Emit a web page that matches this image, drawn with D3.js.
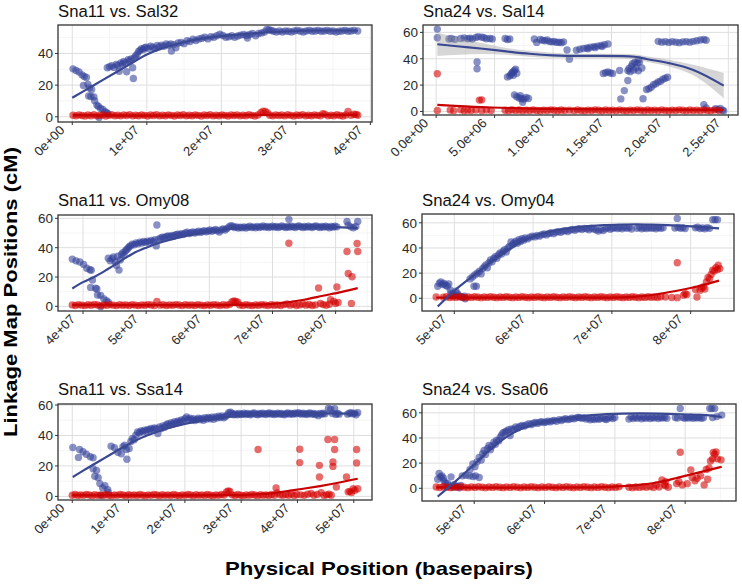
<!DOCTYPE html>
<html><head><meta charset="utf-8">
<script src="https://cdn.jsdelivr.net/npm/d3@7"></script>
<style>body{margin:0;background:#fff}svg{display:block}text{font-family:"Liberation Sans",Arial,Helvetica,sans-serif}</style>
</head><body><svg id="c" width="742" height="584"></svg>
<script>
// ---------- DATA (x in Mb, y in cM) ----------
const titles = ["Sna11 vs. Sal32","Sna24 vs. Sal14","Sna11 vs. Omy08","Sna24 vs. Omy04","Sna11 vs. Ssa14","Sna24 vs. Ssa06"];
const xTickVals = [[0,10,20,30,40],[0,5,10,15,20,25],[40,50,60,70,80],[50,60,70,80],[0,10,20,30,40,50],[50,60,70,80]];
const xTickLabels = [["0e+00","1e+07","2e+07","3e+07","4e+07"],["0.0e+00","5.0e+06","1.0e+07","1.5e+07","2.0e+07","2.5e+07"],["4e+07","5e+07","6e+07","7e+07","8e+07"],["5e+07","6e+07","7e+07","8e+07"],["0e+00","1e+07","2e+07","3e+07","4e+07","5e+07"],["5e+07","6e+07","7e+07","8e+07"]];
const yTickVals = [[0,20,40],[0,20,40,60],[0,20,40,60],[0,20,40,60],[0,20,40,60],[0,20,40,60]];

const p1Blue = [[0.1,30.3],[0.5,29.2],[0.9,28.3],[1.3,26.5],[1.6,25.5],[1.9,24.8],[1.5,19.8],[2.1,20.5],[2.3,18.2],[2.6,17.3],[2.2,13.2],[2.5,12.8],[2.9,12.6],[3.0,10.2],[3.3,7.4],[3.5,6.6],[3.8,5.2],[4.1,4.6],[4.4,3.2],[4.6,2.6],[3.6,-0.5],[4.8,2.0],
[4.7,31.0],[5.0,31.6],[5.3,32.2],[5.6,31.2],[5.9,33.0],[6.1,32.5],[6.3,28.8],[6.5,34.0],[6.7,33.2],[6.9,35.0],[7.1,34.2],[7.3,28.5],[7.5,36.0],[7.7,35.2],[7.9,36.6],[8.1,31.0],[8.2,24.2],[8.3,37.2],[8.5,38.4],[8.7,39.6],[8.9,41.2],[9.1,42.0],[9.3,43.0],[9.5,42.4],[9.7,43.6],[9.9,44.0],[10.2,43.2],[10.5,44.6],[10.8,44.0],[11.1,43.2],[11.4,45.0],[11.7,44.2],[12.0,45.2],[12.3,44.6],[12.6,46.0],[12.9,45.2],[13.2,46.0],[13.3,41.5],[13.6,45.6],[13.9,43.6],[14.2,46.6],[14.6,47.0],[15.0,46.2],[15.4,48.0],[15.8,47.6],[16.2,49.0],[16.6,48.2],[17.0,49.2],[17.4,49.6],[17.8,50.2],[18.2,49.2],[18.6,50.6],[19.0,50.2],[19.4,51.2],[19.8,52.2],[20.2,51.4],[20.6,50.2],[21.0,50.6],[21.4,51.2],[21.8,50.2],[22.2,51.0],[22.6,51.6],[23.0,52.0],[23.4,51.4],[23.5,49.8],[23.8,52.0],[24.2,52.6],[24.6,51.2],[25.0,52.6],[25.4,53.0],[25.8,53.6],[26.1,55.2],[26.4,55.0],[26.7,54.6],[27.0,54.0],[27.4,53.6],[27.8,54.2],[28.2,53.6],[28.6,54.2],[29.0,54.0],[29.4,53.6],[29.8,54.2],[30.2,54.6],[30.6,54.0],[31.0,53.6],[31.4,54.2],[31.8,54.6],[32.2,54.0],[32.6,54.2],[33.0,54.6],[33.4,54.0],[33.8,54.2],[34.2,54.6],[34.6,54.0],[35.0,54.2],[35.4,53.6],[35.8,54.0],[36.2,54.2],[36.6,54.6],[37.0,54.0],[37.4,54.2],[37.8,54.6],[38.3,54.2]];
const p1Red = [[0.1,1.0],[0.5,0.6],[0.9,1.2],[1.3,0.8],[1.7,0.5],[2.1,1.1],[2.5,0.7],[2.9,1.3],[3.3,0.6],[3.7,0.9],[4.1,1.2],[4.5,0.5],[4.9,0.9],[5.3,1.3],[5.7,0.7],[6.1,1.0],[6.5,0.6],[6.9,1.2],[7.3,0.8],[7.7,1.4],[8.1,0.6],[8.5,1.0],[8.9,0.7],[9.3,1.2],[9.7,0.9],[10.1,0.5],[10.5,1.1],[10.9,0.8],[11.3,1.3],[11.7,0.6],[12.1,1.0],[12.5,0.7],[12.9,1.2],[13.3,0.9],[13.7,0.5],[14.1,1.1],[14.5,0.8],[14.9,1.3],[15.3,0.6],[15.7,1.0],[16.1,0.7],[16.5,1.2],[16.9,0.9],[17.3,0.5],[17.7,1.1],[18.1,0.8],[18.5,1.3],[18.9,0.6],[19.3,1.0],[19.7,0.7],[20.1,1.2],[20.5,0.9],[20.9,0.5],[21.3,1.1],[21.7,0.8],[22.1,1.2],[22.5,0.6],[22.9,1.0],[23.3,0.7],[23.7,1.3],[24.1,0.9],[24.5,0.5],[24.9,1.1],[25.3,2.6],[25.6,3.5],[25.9,3.4],[26.2,2.5],[26.5,1.0],[26.9,0.6],[27.3,1.2],[27.7,0.8],[28.1,1.1],[28.5,0.6],[28.9,1.3],[29.3,0.9],[29.7,0.5],[30.1,1.1],[30.5,0.8],[30.9,1.4],[31.3,0.6],[31.7,1.0],[32.1,0.7],[32.5,1.2],[32.9,0.9],[33.3,0.6],[33.6,2.0],[33.9,1.6],[34.3,0.6],[34.7,1.0],[35.1,0.7],[35.5,1.3],[35.9,0.8],[36.3,0.5],[36.7,1.1],[37.0,3.4],[37.4,1.0],[37.8,1.6],[38.1,1.5],[38.3,1.0]];
const p1BlueFit = [[0,12],[2,17.5],[4,23],[6,28.5],[8,34],[10,39.3],[12,43.2],[14,46],[16,48.2],[18,49.8],[21,51.4],[24,52.6],[27,53.6],[30,54.2],[33,54.5],[36,54.5],[38.3,54.4]];
const p1RedFit = [[0.1,1.0],[10,0.8],[20,0.9],[26,1.2],[30,1.1],[38.3,1.2]];

const p2Blue = [[0.1,62.5],[0.1,55.9],[1.1,55.0],[1.3,55.4],[1.6,54.6],[2.1,55.4],[2.4,55.8],[2.7,55.2],[2.9,55.6],[3.1,55.0],[3.4,56.2],[3.6,56.8],[3.9,56.4],[4.1,56.0],[4.3,55.2],[4.6,55.4],[4.8,55.0],[3.5,37.5],[3.5,32.4],
[5.9,55.4],[6.1,54.6],[6.3,55.0],[6.1,26.2],[6.3,27.0],[6.4,28.2],[6.5,29.5],[6.6,30.0],[6.7,31.2],[6.8,32.0],[6.9,29.0],[6.6,27.5],
[6.7,12.6],[6.9,11.2],[7.1,10.2],[7.3,9.6],[7.5,9.4],[7.7,10.6],[7.9,9.8],[7.4,7.0],[7.2,12.0],
[8.4,55.0],[8.6,52.4],[8.9,54.6],[9.1,54.0],[9.3,53.6],[9.5,54.2],[9.7,53.0],[9.9,52.8],[10.1,53.2],[10.3,52.4],[10.5,52.6],[10.7,52.2],[10.9,52.8],
[11.2,46.6],[11.4,39.6],[12.0,46.4],[12.3,47.2],[12.6,47.8],[12.9,48.2],[13.0,47.6],[13.2,48.8],[13.5,49.2],[13.6,48.4],[13.8,49.6],[14.1,50.0],[14.2,49.2],[14.4,50.6],[14.7,51.2],
[14.3,28.8],[14.5,29.4],[14.7,30.0],[14.9,29.2],[15.1,28.8],[15.7,31.1],[15.8,9.5],[16.1,15.8],[16.4,23.5],
[16.4,31.0],[16.5,32.6],[16.6,30.2],[16.7,34.4],[16.8,36.2],[16.9,31.4],[17.0,37.4],[17.1,33.2],[17.2,36.8],[17.3,30.8],[17.4,37.6],[17.6,33.0],[17.3,39.5],[17.7,9.6],
[18.0,16.6],[18.2,17.2],[18.4,18.4],[18.6,20.2],[18.8,21.0],[19.0,22.4],[19.2,23.0],[19.4,24.4],[19.6,25.2],[19.8,26.0],
[19.0,53.2],[19.3,52.6],[19.6,53.0],[19.9,52.4],[20.2,53.0],[20.5,52.6],[20.8,52.2],[21.1,52.8],[21.4,53.0],[21.7,52.6],[22.0,53.2],[22.3,53.6],[22.6,54.2],[22.9,54.6],[23.1,54.0],
[22.9,5.2],[23.1,2.6],[23.9,2.0],[24.1,1.4],[24.3,2.2],[24.5,1.0],[24.6,0.4]];
const p2Red = [[0.1,28.6],[0.1,0.8],[1.2,1.0],[1.5,0.6],[2.1,1.2],[2.4,0.5],[2.7,1.0],[3.0,0.7],[3.4,1.1],[3.7,8.6],[3.9,8.8],[3.9,0.6],[4.3,1.0],[4.7,0.7],[5.9,0.9],[6.2,0.6],[6.5,1.2],[6.8,0.8],[7.1,1.1],[7.4,0.5],[7.7,1.0],[8.0,0.7],[8.3,1.2],[8.6,0.8],[8.9,0.5],[9.2,1.0],[9.5,0.7],[9.8,1.2],[10.1,0.9],[10.4,0.5],[10.7,1.1],[11.0,0.7],[11.4,1.0],[11.8,0.6],[12.1,1.2],[12.4,0.8],[12.7,0.5],[13.0,1.0],[13.3,0.7],[13.6,1.2],[13.9,0.9],[14.2,0.5],[14.5,1.1],[14.8,0.7],[15.1,1.0],[15.4,0.6],[15.7,1.2],[16.0,0.8],[16.3,0.5],[16.6,1.0],[16.9,0.7],[17.2,1.2],[17.5,0.9],[17.8,0.5],[18.1,1.1],[18.4,0.7],[18.7,1.0],[19.0,0.6],[19.3,1.2],[19.6,0.8],[19.9,0.5],[20.2,1.0],[20.5,0.7],[20.8,1.2],[21.1,0.9],[21.4,0.5],[21.7,1.1],[22.0,0.7],[22.3,1.0],[22.6,0.6],[22.9,1.2],[23.2,0.8],[23.5,0.5],[23.8,1.0],[24.2,0.7]];
const p2BlueFit = [[0.1,51],[2,49.3],[4,47.6],[6,45.6],[8,43.8],[10,42.6],[12,42.1],[14,42.1],[16,42.0],[17,41.5],[18,39.8],[20,36.5],[22,31.5],[24.6,19.6]];
const p2RedFit = [[0.1,5.0],[2,4.0],[4.7,3.0],[8,2.2],[12,1.7],[16,1.5],[20,1.4],[24.6,1.2]];
const p2Band = [[0.1,42,60],[2,43,55.6],[4,43.5,51.7],[6,43,48.2],[8,41.6,46],[10,40.7,44.5],[12,40.4,43.8],[14,40.4,43.8],[16,40.2,43.8],[17,39.6,43.4],[18,37.7,41.9],[20,34,39],[22,27.5,35.5],[24.6,10,29.2]];

const p3Blue = [[38.3,32.2],[38.9,31.0],[39.5,30.2],[40.1,28.6],[40.6,26.0],[41.1,25.0],[41.3,24.6],[41.5,17.9],[41.2,12.9],[42.0,12.4],[42.2,11.8],[42.3,7.7],[42.8,7.5],[43.3,5.0],[43.7,3.9],[42.8,-0.2],[44.0,2.8],
[44.0,32.8],[44.3,31.0],[44.6,32.4],[44.8,33.6],[45.1,30.2],[45.3,28.0],[45.5,34.2],[45.7,24.7],[45.9,31.6],[46.1,35.4],[46.3,36.6],[46.5,34.8],[46.7,37.8],[46.9,38.6],[47.1,39.4],[47.3,40.6],[47.5,41.2],[47.8,42.4],[48.1,42.0],[48.4,43.2],[48.7,42.6],[49.0,43.8],[49.3,43.2],[49.6,44.2],[49.9,43.6],[50.2,44.4],[50.5,43.8],[50.8,45.0],[51.1,44.2],[51.4,45.4],[51.6,41.2],[51.7,55.5],[52.0,45.8],[52.3,46.6],[52.6,47.2],[52.9,46.8],[53.2,47.6],[53.5,48.0],[53.8,47.4],[54.1,48.4],[54.4,48.0],[54.7,48.8],[55.0,49.2],[55.3,48.6],[55.6,49.6],[55.9,49.0],[56.2,50.0],[56.5,50.6],[56.8,49.6],[57.1,50.2],[57.4,50.8],[57.7,50.0],[58.0,50.6],[58.3,51.2],[58.6,50.4],[58.9,51.0],[59.2,51.6],[59.5,50.8],[59.8,51.4],[60.1,52.0],[60.4,51.2],[60.7,51.8],[61.0,52.4],[61.3,51.6],[61.6,50.6],[61.9,52.2],[62.2,52.8],[62.5,52.0],[62.8,53.0],[63.1,54.2],[63.4,55.0],[63.7,54.6],[64.0,53.8],[64.3,54.2],[64.6,53.4],[64.9,54.0],[65.2,53.6],[65.5,54.2],[65.8,53.4],[66.1,54.0],[66.4,54.6],[66.7,53.8],[67.0,54.2],[67.3,53.6],[67.6,54.4],[67.9,53.8],[68.2,54.2],[68.5,54.8],[68.8,54.0],[69.1,54.4],[69.4,53.8],[69.7,54.2],[70.0,54.6],[70.3,54.0],[70.6,54.4],[70.9,53.8],[71.2,54.2],[71.5,54.8],[71.8,54.2],[72.1,53.8],[72.6,59.3],[72.4,54.4],[72.7,54.0],[73.0,54.6],[73.3,54.2],[73.6,53.8],[73.9,54.4],[74.2,54.8],[74.5,54.2],[74.8,53.8],[75.1,54.4],[75.4,54.0],[75.7,54.6],[76.0,54.2],[76.3,53.8],[76.6,54.4],[76.9,54.8],[77.2,54.2],[77.5,53.8],[77.8,54.4],[78.1,54.0],[78.4,54.6],[78.7,54.2],[79.0,53.6],[79.3,54.4],[79.6,54.0],[79.9,54.6],[80.2,54.2],[81.8,57.8],[82.0,55.4],[82.4,54.2],[82.8,53.6],[83.2,54.4],[83.5,57.8]];
const p3Red = [[38.3,1.0],[38.8,0.6],[39.3,1.2],[39.8,0.8],[40.3,0.5],[40.8,1.1],[41.3,0.7],[41.8,1.3],[42.3,0.9],[42.8,0.5],[43.3,1.0],[43.8,0.7],[44.3,1.2],[44.8,0.8],[45.3,0.5],[45.8,1.1],[46.3,0.7],[46.8,1.0],[47.3,0.6],[47.8,1.2],[48.3,0.8],[48.8,0.5],[49.3,1.0],[49.8,0.7],[50.3,1.2],[50.8,0.9],[51.3,0.5],[51.7,3.4],[52.2,0.8],[52.7,1.1],[53.2,0.6],[53.7,1.0],[54.2,0.7],[54.7,1.2],[55.2,0.9],[55.7,0.5],[56.2,1.1],[56.7,0.7],[57.2,1.0],[57.7,0.6],[58.2,1.2],[58.7,0.8],[59.2,0.5],[59.7,1.0],[60.2,0.7],[60.7,1.2],[61.2,0.9],[61.7,0.5],[62.2,1.1],[62.7,0.7],[63.2,1.3],[63.6,3.2],[63.9,3.6],[64.2,3.4],[64.5,2.8],[64.8,1.0],[65.3,0.6],[65.8,1.2],[66.3,0.8],[66.8,0.5],[67.3,1.0],[67.8,0.7],[68.3,1.2],[68.8,0.9],[69.3,0.5],[69.8,1.1],[70.3,0.7],[70.8,1.0],[71.3,0.6],[71.8,1.2],[72.3,1.6],[72.6,43.0],[72.8,0.8],[73.3,1.4],[73.8,0.6],[74.3,1.0],[74.8,1.6],[75.3,0.8],[75.8,1.3],[76.3,0.6],[76.8,1.0],[77.3,12.5],[77.6,2.0],[78.0,1.2],[78.5,0.7],[79.0,1.4],[79.2,4.5],[79.7,3.4],[80.0,2.0],[80.2,13.2],[80.4,2.7],[81.8,37.4],[82.0,22.4],[82.5,2.0],[82.6,20.2],[83.4,42.8],[83.5,37.4]];
const p3BlueFit = [[38.3,12.2],[40,16.5],[42,20.5],[44,25.6],[46,31.0],[48,36.2],[50,40.0],[52,43.2],[54,45.6],[56,47.8],[58,49.6],[60,51.0],[62,52.2],[64,53.0],[66,53.6],[68,54.0],[70,54.3],[72,54.4],[74,54.5],[76,54.4],[78,54.3],[80,54.0],[82,53.6],[83.5,53.3]];
const p3RedFit = [[38.3,1.0],[50,0.8],[60,0.8],[66,1.0],[69,1.4],[72.2,2.6],[75,4.5],[78,7.2],[81,9.9],[83.5,12.4]];

const p4Blue = [[47.9,9.6],[48.1,12.0],[48.3,13.0],[48.5,11.0],[48.7,11.7],[48.9,10.4],[49.1,9.6],[49.3,11.4],[49.5,6.4],[49.6,4.0],[49.8,3.2],[50.0,2.4],[50.2,5.6],[50.4,3.6],[50.6,2.0],[50.9,1.2],[51.1,0.6],[51.3,1.6],[51.4,-0.4],
[52.0,15.4],[52.3,17.0],[52.5,9.6],[52.8,9.6],[52.6,18.6],[52.9,20.0],[53.2,21.6],[53.4,19.4],[53.6,23.6],[53.8,25.0],[54.0,26.6],[54.2,24.2],[54.4,28.2],[54.6,30.4],[54.8,29.0],[55.0,31.6],[55.2,33.0],[55.4,31.8],[55.6,34.4],[55.8,36.0],[56.0,35.2],[56.2,37.4],[56.4,38.6],[56.6,36.8],[56.8,40.0],[57.0,41.2],[57.2,44.8],[57.4,42.6],[57.6,44.0],[57.8,45.4],[58.0,43.8],[58.2,46.6],[58.4,45.2],[58.6,47.4],[58.8,46.2],[59.0,48.0],[59.3,47.2],[59.6,48.6],[59.9,49.4],[60.2,48.8],[60.5,50.0],[60.8,49.4],[61.1,50.6],[61.4,51.2],[61.7,50.4],[62.0,51.6],[62.3,52.2],[62.6,51.4],[62.9,52.6],[63.2,53.0],[63.5,52.4],[63.8,53.4],[64.1,53.8],[64.4,53.0],[64.7,54.2],[65.0,54.8],[65.3,54.0],[65.6,55.0],[65.9,55.4],[66.2,54.6],[66.5,55.6],[66.8,55.2],[67.1,54.4],[67.4,55.8],[67.7,55.0],[68.0,54.2],[68.3,53.4],[68.6,54.6],[68.9,53.8],[69.2,55.2],[69.5,56.0],[69.8,54.8],[70.1,55.6],[70.4,56.2],[70.7,55.4],[71.0,56.0],[71.3,55.2],[71.6,56.4],[71.9,55.6],[72.2,56.2],[72.5,55.0],[73.2,55.6],[73.5,56.4],[73.8,55.2],[74.1,56.0],[74.4,55.4],[74.7,56.2],[75.0,55.6],[75.3,56.0],[75.6,55.2],[75.9,56.2],[76.2,55.6],[76.5,56.0],[78.3,63.5],[78.0,55.8],[78.4,56.4],[78.7,55.6],[79.0,56.2],[79.3,55.4],[80.6,56.0],[80.9,56.6],[81.2,55.4],[81.5,56.0],[81.8,55.2],[82.1,56.2],[82.4,55.6],[82.8,62.5],[83.1,62.5],[83.4,62.5]];
const p4Red = [[47.7,1.0],[48.6,0.8],[49.0,1.2],[49.4,0.6],[49.8,1.0],[50.2,0.7],[50.6,1.2],[51.0,0.8],[51.4,0.5],[51.8,1.0],[52.2,0.7],[52.6,1.2],[53.0,0.8],[53.4,0.5],[53.8,1.0],[54.2,0.7],[54.6,1.2],[55.0,0.8],[55.4,0.5],[55.8,1.0],[56.2,0.7],[56.6,1.2],[57.0,0.8],[57.4,0.5],[57.8,1.0],[58.2,0.7],[58.6,1.2],[59.0,0.8],[59.4,0.5],[59.8,1.0],[60.2,0.7],[60.6,1.2],[61.0,0.8],[61.4,0.5],[61.8,1.0],[62.2,0.7],[62.6,1.2],[63.0,0.8],[63.4,0.5],[63.8,1.0],[64.2,0.7],[64.6,1.2],[65.0,0.8],[65.4,0.5],[65.8,1.0],[66.2,0.7],[66.6,1.2],[67.0,0.8],[67.4,0.5],[67.8,1.0],[68.2,0.7],[68.6,1.2],[69.0,0.8],[69.4,0.5],[69.8,1.0],[70.2,0.7],[70.6,1.2],[71.0,0.8],[71.4,0.5],[71.8,1.0],[72.2,0.7],[72.6,1.2],[73.0,0.8],[73.4,0.5],[73.8,1.0],[74.2,0.7],[74.6,1.2],[75.0,0.8],[75.4,1.0],[75.8,0.6],[76.2,1.2],[76.8,1.0],[77.6,0.6],[78.3,28.2],[78.3,0.5],[79.1,2.5],[79.3,3.6],[79.5,3.0],[80.6,7.0],[80.8,1.0],[81.2,6.4],[81.4,8.0],[81.6,9.0],[81.8,7.4],[82.0,13.0],[82.2,16.6],[82.4,15.6],[82.6,19.0],[82.8,22.3],[83.0,21.6],[83.2,24.4],[83.4,22.8],[83.5,26.3],[83.7,23.6]];
const p4BlueFit = [[47.9,-6.6],[50,6.0],[52,16.0],[53.5,23.4],[55,30.5],[56.5,37.2],[58,43.0],[59.5,47.8],[61,51.2],[63,54.2],[65,56.2],[67,57.4],[69,58.2],[71,58.6],[73,58.8],[75,58.6],[77,58.2],[79,57.6],[81,56.8],[83.6,55.6]];
const p4RedFit = [[47.7,0.6],[56,0.5],[64,0.5],[70,0.6],[72.8,1.1],[75.5,3.0],[78.1,5.8],[80.7,9.2],[83.6,14.0]];

const p5Blue = [[0.1,32.1],[1.1,25.6],[1.3,30.8],[1.9,29.3],[2.5,27.7],[3.2,26.0],[3.7,25.4],[3.7,18.2],[4.0,13.2],[4.6,12.3],[4.9,8.4],[5.4,5.5],[6.3,4.4],[5.1,0.7],[6.4,2.6],[5.8,7.0],[4.3,17.0],
[6.9,33.0],[7.5,32.0],[8.1,29.0],[8.7,28.0],[9.0,32.6],[9.3,33.6],[9.6,30.8],[9.7,24.4],[10.1,31.4],[10.4,36.0],[10.7,38.0],[11.0,37.2],[11.3,40.2],[11.6,42.3],[11.9,41.6],[12.2,43.0],[12.5,42.4],[12.8,43.5],[13.1,42.8],[13.4,44.0],[13.7,43.4],[14.0,44.6],[14.3,44.0],[14.6,45.0],[14.9,44.4],[15.2,41.3],[15.5,45.6],[15.8,44.5],[16.1,46.2],[16.4,45.4],[16.7,47.0],[17.0,47.8],[17.3,46.8],[17.6,48.4],[17.9,47.6],[18.2,49.0],[18.5,48.2],[18.8,49.6],[19.1,48.8],[19.4,50.2],[19.7,49.4],[20.0,51.0],[20.3,52.2],[20.6,50.6],[20.9,51.4],[21.2,50.2],[21.5,51.0],[21.8,49.8],[22.1,50.6],[22.4,51.4],[22.7,50.4],[23.0,51.2],[23.3,50.0],[23.6,51.6],[23.9,50.8],[24.2,51.8],[24.5,51.0],[24.8,52.0],[25.1,50.6],[25.4,52.2],[25.7,51.4],[26.0,52.6],[26.3,51.8],[26.6,52.8],[26.9,51.6],[27.2,52.4],[27.5,53.4],[27.8,54.9],[28.1,55.2],[28.4,54.4],[28.7,53.6],[29.0,54.2],[29.3,53.6],[29.6,54.4],[29.9,53.8],[30.2,54.0],[30.5,54.6],[30.8,53.8],[31.1,54.4],[31.4,54.0],[31.7,53.6],[32.0,54.4],[32.3,54.8],[32.6,54.0],[32.9,53.6],[33.2,54.4],[33.5,54.0],[33.8,54.6],[34.1,54.2],[34.4,53.8],[34.7,54.4],[35.0,54.8],[35.3,54.0],[35.6,54.4],[35.9,53.8],[36.2,54.2],[36.5,54.6],[36.8,54.0],[37.1,54.4],[37.4,54.0],[37.7,53.6],[38.0,54.4],[38.3,54.8],[38.6,54.0],[38.9,54.4],[39.2,54.0],[39.5,54.6],[39.8,54.2],[40.1,55.0],[40.4,54.4],[40.7,54.0],[41.0,54.6],[41.3,54.2],[41.6,53.8],[41.9,54.4],[42.2,54.8],[42.5,54.0],[42.8,54.4],[43.1,53.8],[43.4,54.2],[43.7,53.0],[44.0,54.4],[44.3,54.0],[44.6,54.6],[44.9,54.2],[45.5,57.8],[45.9,57.2],[46.6,57.6],[46.2,54.4],[46.8,53.8],[47.1,54.4],[47.4,54.0],[48.9,54.0],[49.2,54.6],[49.5,54.9],[49.8,54.2],[50.1,54.6],[50.4,53.6],[50.7,55.0]];
const p5Red = [[0.0,0.8],[0.5,1.2],[1.0,0.6],[1.5,1.0],[2.0,0.7],[2.5,1.3],[3.0,0.9],[3.5,0.5],[4.0,1.1],[4.5,0.7],[5.0,1.0],[5.5,0.6],[6.0,1.2],[6.5,0.8],[7.0,0.5],[7.5,1.0],[8.0,0.7],[8.5,1.2],[9.0,0.9],[9.5,0.5],[10.0,1.1],[10.5,0.7],[11.0,1.0],[11.5,0.6],[12.0,1.2],[12.5,0.8],[13.0,0.5],[13.5,1.0],[14.0,0.7],[14.5,1.2],[15.0,0.9],[15.5,0.5],[16.0,1.1],[16.5,0.7],[17.0,1.0],[17.5,0.6],[18.0,1.2],[18.5,0.8],[19.0,0.5],[19.5,1.0],[20.0,0.7],[20.5,1.2],[21.0,0.9],[21.5,0.5],[22.0,1.1],[22.5,0.7],[23.0,1.0],[23.5,0.6],[24.0,1.2],[24.5,0.8],[25.0,0.5],[25.5,1.0],[26.0,0.7],[26.5,1.2],[27.0,0.9],[27.4,3.0],[27.7,3.6],[28.0,3.2],[28.4,1.0],[28.9,0.6],[29.4,1.2],[29.9,0.8],[30.4,0.5],[30.9,1.0],[31.4,0.7],[31.9,1.2],[32.4,0.9],[32.9,0.5],[33.0,30.8],[33.4,1.1],[33.9,0.7],[34.4,1.0],[34.9,0.6],[35.4,1.2],[35.9,0.8],[36.2,5.5],[36.4,2.2],[36.9,1.0],[37.4,0.7],[37.9,1.3],[38.4,0.8],[38.9,1.6],[39.4,0.6],[39.9,1.2],[40.4,31.0],[40.4,22.2],[40.6,1.0],[41.2,0.7],[41.8,1.4],[42.4,2.0],[42.9,0.8],[43.5,1.2],[43.9,20.4],[43.9,12.7],[44.2,2.4],[44.7,0.6],[45.2,1.0],[45.4,37.4],[45.6,1.4],[46.0,0.8],[46.3,22.6],[46.3,19.7],[46.6,37.4],[46.6,30.8],[46.9,6.1],[48.7,12.7],[49.0,3.0],[49.3,3.3],[49.6,2.6],[49.9,5.0],[50.2,4.0],[50.5,30.8],[50.5,22.0],[50.7,5.0]];
const p5BlueFit = [[0.1,12.7],[2,17.1],[4,21.4],[6,25.8],[8,30.1],[10,34.2],[12,38.0],[14,41.0],[16,43.6],[18,45.8],[20,47.6],[23,49.8],[26,51.4],[30,52.8],[34,53.7],[38,54.2],[42,54.5],[46,54.5],[50.7,54.3]];
const p5RedFit = [[0,0.8],[10,0.7],[20,0.7],[28,0.8],[32,1.2],[35.7,2.2],[38,3.4],[41,5.0],[44,6.8],[47,8.8],[50.7,11.6]];

const p6Blue = [[44.8,7.2],[45.0,11.8],[45.2,9.0],[45.4,9.9],[45.6,8.0],[45.7,5.9],[45.9,4.2],[46.2,3.8],[46.4,2.0],[46.7,9.1],[46.9,0.8],[47.1,2.9],[47.4,1.4],[47.6,1.6],[47.9,0.4],[48.1,2.2],
[48.3,9.9],[48.8,10.4],[49.3,9.9],[49.8,9.4],[50.2,9.9],[50.7,8.6],
[49.4,15.0],[49.8,19.3],[50.1,17.2],[50.4,21.0],[50.7,24.6],[51.0,22.4],[51.2,27.4],[51.4,30.0],[51.6,26.8],[51.9,31.6],[52.1,34.0],[52.3,30.6],[52.5,33.4],[52.8,36.7],[53.0,35.0],[53.2,38.2],[53.5,37.8],[53.7,40.6],[53.9,42.4],[54.1,44.2],[54.4,44.7],[54.6,45.5],[54.9,46.6],[55.1,42.0],[55.3,47.2],[55.6,46.8],[55.9,48.7],[56.2,48.0],[56.5,49.2],[56.8,50.0],[57.1,49.4],[57.4,50.4],[57.8,51.4],[58.1,50.6],[58.4,51.8],[58.7,52.4],[59.0,51.6],[59.3,52.6],[59.6,53.0],[59.9,52.2],[60.2,52.7],[60.5,53.4],[60.8,52.8],[61.1,53.6],[61.4,54.0],[61.7,53.2],[62.1,54.6],[62.4,53.8],[62.7,54.8],[63.0,55.4],[63.3,54.6],[63.6,55.0],[63.9,55.8],[64.2,55.2],[64.5,56.0],[64.8,56.4],[65.0,56.2],[65.3,55.6],[65.6,56.2],[65.9,55.0],[66.2,55.8],[66.5,54.4],[66.8,55.2],[67.1,54.6],[67.4,55.6],[67.7,54.8],[68.0,55.4],[68.3,56.2],[68.6,55.0],[68.8,54.6],[69.1,55.8],[69.4,56.6],[69.7,55.4],[70.0,56.2],[72.0,55.0],[72.3,56.6],[72.6,55.4],[72.9,56.4],[73.2,55.6],[73.5,56.8],[73.8,55.2],[74.1,56.2],[74.4,55.6],[74.7,56.6],[75.0,55.4],[75.3,56.2],[75.6,55.8],[75.9,56.6],[76.2,55.4],[76.5,56.2],[76.8,55.8],[77.1,56.4],[77.4,55.6],[78.6,56.2],[78.9,55.8],[79.3,63.5],[79.6,56.4],[79.9,55.6],[80.2,56.2],[80.5,55.8],[80.8,56.6],[81.1,55.6],[81.4,56.2],[81.7,55.8],[82.0,56.4],[82.3,55.6],[82.6,56.0],[83.5,63.5],[83.8,63.5],[84.2,63.5],[83.9,56.2],[84.5,57.0],[85.2,58.2]];
const p6Red = [[44.6,1.0],[45.1,0.6],[45.6,1.2],[46.1,0.8],[46.6,0.5],[47.1,1.0],[47.6,0.7],[48.1,1.2],[48.6,0.8],[49.1,0.5],[49.6,1.0],[50.1,0.7],[50.6,1.2],[51.1,0.8],[51.6,0.5],[52.1,1.0],[52.6,0.7],[53.1,1.2],[53.6,0.8],[54.1,0.5],[54.6,1.0],[55.1,0.7],[55.6,1.2],[56.1,0.8],[56.6,0.5],[57.1,1.0],[57.6,0.7],[58.1,1.2],[58.6,0.8],[59.1,0.5],[59.6,1.0],[60.1,0.7],[60.6,1.2],[61.1,0.8],[61.6,0.5],[62.1,1.0],[62.6,0.7],[63.1,1.2],[63.6,0.8],[64.1,0.5],[64.6,1.0],[65.1,0.7],[65.6,1.2],[66.1,0.8],[66.6,0.5],[67.1,1.0],[67.6,0.7],[68.1,1.2],[68.6,0.8],[69.1,0.5],[69.6,1.0],[70.1,0.7],[70.6,1.2],[72.0,0.8],[72.5,0.5],[73.0,1.0],[73.5,0.7],[74.0,1.2],[74.5,0.8],[75.0,1.4],[75.5,0.6],[75.9,2.6],[76.3,1.0],[76.7,6.7],[77.0,3.0],[77.2,5.3],[77.2,2.0],[77.6,0.8],[78.8,3.7],[79.1,5.3],[79.3,28.6],[79.6,2.7],[80.3,3.7],[80.8,14.5],[81.0,8.6],[81.4,6.0],[81.7,8.0],[82.2,9.9],[82.7,2.7],[83.0,15.0],[83.2,7.2],[83.4,16.1],[83.6,21.7],[83.9,23.4],[84.0,28.4],[84.2,27.0],[84.4,28.9],[84.6,23.4],[85.1,22.6]];
const p6BlueFit = [[44.8,-6.6],[47.4,5.9],[49.8,17.9],[52.1,30.0],[54.4,40.2],[56.8,47.5],[60.2,52.8],[64,56.3],[68.8,59.0],[73.5,59.5],[78.3,59.0],[83,58.2],[85.2,56.6]];
const p6RedFit = [[44.6,0.8],[52,0.6],[60,0.6],[66,0.8],[70,1.4],[73.5,2.7],[76,4.6],[79,8.5],[82,12.6],[85.2,17.1]];

const blueSets = [p1Blue,p2Blue,p3Blue,p4Blue,p5Blue,p6Blue];
const redSets = [p1Red,p2Red,p3Red,p4Red,p5Red,p6Red];
const blueFits = [p1BlueFit,p2BlueFit,p3BlueFit,p4BlueFit,p5BlueFit,p6BlueFit];
const redFits = [p1RedFit,p2RedFit,p3RedFit,p4RedFit,p5RedFit,p6RedFit];
const bands = [null,p2Band,null,null,null,null];

// ---------- LAYOUT ----------
const rects = [
  {x0:58,x1:372,y0:25,y1:122},
  {x0:423,x1:738,y0:25,y1:115},
  {x0:58,x1:372,y0:215,y1:311},
  {x0:422,x1:734,y0:214,y1:311},
  {x0:58,x1:372,y0:404,y1:500},
  {x0:422,x1:736,y0:404,y1:501}
];
const titleY = [17,17,206,206,395,395];

const svg = d3.select("#c");
svg.append("rect").attr("width",742).attr("height",584).attr("fill","#fff");
const defs = svg.append("defs");

const BLUE="#33429a", RED="#d40000", BLUE_L="#3a4892", RED_L="#c80000";

function expand(vals){const [a,b]=d3.extent(vals);const r=b-a;return [a-0.05*r,b+0.05*r];}
function minorTicks(t,dom){const s=t[1]-t[0];const out=[];for(let v=t[0]-s/2;v<=dom[1];v+=s){if(v>=dom[0])out.push(v);}return out;}

rects.forEach((R,i)=>{
  const allX=[...blueSets[i],...redSets[i],...blueFits[i],...redFits[i]].map(d=>d[0]);
  let allY=[...blueSets[i],...redSets[i],...blueFits[i],...redFits[i]].map(d=>d[1]);
  if(bands[i]) bands[i].forEach(b=>{allY.push(b[1],b[2]);});
  const x=d3.scaleLinear().domain(expand(allX)).range([R.x0,R.x1]);
  const y=d3.scaleLinear().domain(expand(allY)).range([R.y1,R.y0]);
  const g=svg.append("g");
  const xt=xTickVals[i], yt=yTickVals[i];
  const xm=minorTicks(xt,x.domain()), ym=minorTicks(yt,y.domain());
  g.selectAll(".gxm").data(xm).join("line").attr("x1",d=>x(d)).attr("x2",d=>x(d)).attr("y1",R.y0).attr("y2",R.y1).attr("stroke","#efefef").attr("stroke-width",0.6);
  g.selectAll(".gym").data(ym).join("line").attr("y1",d=>y(d)).attr("y2",d=>y(d)).attr("x1",R.x0).attr("x2",R.x1).attr("stroke","#efefef").attr("stroke-width",0.6);
  g.selectAll(".gx").data(xt).join("line").attr("x1",d=>x(d)).attr("x2",d=>x(d)).attr("y1",R.y0).attr("y2",R.y1).attr("stroke","#dedede").attr("stroke-width",1);
  g.selectAll(".gy").data(yt).join("line").attr("y1",d=>y(d)).attr("y2",d=>y(d)).attr("x1",R.x0).attr("x2",R.x1).attr("stroke","#dedede").attr("stroke-width",1);
  defs.append("clipPath").attr("id","cl"+i).append("rect").attr("x",R.x0).attr("y",R.y0).attr("width",R.x1-R.x0).attr("height",R.y1-R.y0);
  const pg=svg.append("g").attr("clip-path",`url(#cl${i})`);
  pg.selectAll(".b").data(blueSets[i]).join("circle").attr("cx",d=>x(d[0])).attr("cy",d=>y(d[1])).attr("r",3.7).attr("fill",BLUE).attr("fill-opacity",0.58);
  pg.selectAll(".r").data(redSets[i]).join("circle").attr("cx",d=>x(d[0])).attr("cy",d=>y(d[1])).attr("r",3.7).attr("fill",RED).attr("fill-opacity",0.58);
  if(bands[i]){
    pg.append("path").datum(bands[i]).attr("d",d3.area().x(d=>x(d[0])).y0(d=>y(d[1])).y1(d=>y(d[2])).curve(d3.curveMonotoneX)).attr("fill","#999").attr("fill-opacity",0.4);
  }
  const ln=d3.line().x(d=>x(d[0])).y(d=>y(d[1])).curve(d3.curveMonotoneX);
  pg.append("path").datum(redFits[i]).attr("d",ln).attr("fill","none").attr("stroke",RED_L).attr("stroke-width",2.2);
  pg.append("path").datum(blueFits[i]).attr("d",ln).attr("fill","none").attr("stroke",BLUE_L).attr("stroke-width",2.2);
  svg.append("rect").attr("x",R.x0).attr("y",R.y0).attr("width",R.x1-R.x0).attr("height",R.y1-R.y0).attr("fill","none").attr("stroke","#333").attr("stroke-width",1.3);
  const ax=svg.append("g");
  ax.selectAll(".xt").data(xt).join("line").attr("x1",d=>x(d)).attr("x2",d=>x(d)).attr("y1",R.y1).attr("y2",R.y1+3).attr("stroke","#333").attr("stroke-width",1);
  ax.selectAll(".yt").data(yt).join("line").attr("y1",d=>y(d)).attr("y2",d=>y(d)).attr("x1",R.x0-3).attr("x2",R.x0).attr("stroke","#333").attr("stroke-width",1);
  ax.selectAll(".xl").data(xt).join("text").attr("transform",(d)=>`translate(${x(d)-7},${R.y1+9}) rotate(-45)`).attr("text-anchor","end").attr("font-size",13).attr("fill","#2a2a2a").text((d,j)=>xTickLabels[i][j]);
  ax.selectAll(".yl").data(yt).join("text").attr("x",R.x0-5).attr("y",d=>y(d)).attr("dy","0.36em").attr("text-anchor","end").attr("font-size",13.5).attr("fill","#2a2a2a").text(d=>d);
  svg.append("text").attr("x",R.x0).attr("y",titleY[i]).attr("font-size",16.7).attr("fill","#111").text(titles[i]);
});

svg.append("text").attr("transform","translate(17,292) rotate(-90)").attr("text-anchor","middle").attr("font-size",18.5).attr("font-weight","bold").attr("textLength",290).attr("lengthAdjust","spacingAndGlyphs").attr("fill","#000").text("Linkage Map Positions (cM)");
svg.append("text").attr("x",379).attr("y",575).attr("text-anchor","middle").attr("font-size",18.5).attr("font-weight","bold").attr("textLength",308).attr("lengthAdjust","spacingAndGlyphs").attr("fill","#000").text("Physical Position (basepairs)");
</script></body></html>
